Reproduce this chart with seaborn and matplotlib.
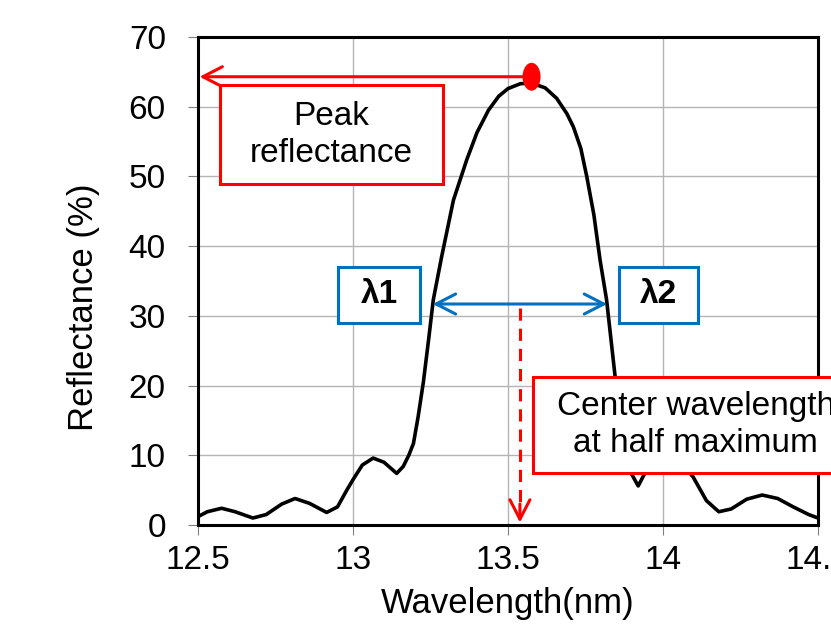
import numpy as np
import matplotlib
matplotlib.use("Agg")
import matplotlib.pyplot as plt
from matplotlib.patches import Rectangle, Ellipse
import seaborn as sns

# ---------------- data ----------------
wavelength = [12.50, 12.53, 12.576, 12.62, 12.677, 12.72, 12.77, 12.813, 12.86, 12.915,
              12.95, 12.98, 13.00, 13.03, 13.065, 13.10, 13.141, 13.162, 13.18, 13.195,
              13.21, 13.227, 13.245, 13.259, 13.286, 13.324, 13.367, 13.40, 13.437, 13.47,
              13.50, 13.54, 13.576, 13.62, 13.657, 13.69, 13.711, 13.735, 13.754, 13.777,
              13.797, 13.818, 13.845, 13.87, 13.89, 13.92, 13.947, 13.98, 14.02, 14.06,
              14.097, 14.14, 14.18, 14.22, 14.27, 14.32, 14.37, 14.42, 14.47, 14.50]
reflectance = [1.2, 1.9, 2.4, 1.9, 1.0, 1.5, 3.0, 3.8, 3.1, 1.8,
               2.6, 5.0, 6.5, 8.6, 9.6, 9.0, 7.4, 8.4, 10.0, 11.7,
               15.5, 20.5, 27.0, 32.3, 38.5, 46.6, 52.4, 56.3, 59.5, 61.5,
               62.6, 63.3, 63.4, 62.7, 61.2, 59.0, 57.1, 54.0, 50.0, 44.5,
               38.0, 32.3, 21.5, 13.0, 8.0, 5.6, 7.9, 9.5, 9.8, 8.8,
               6.9, 3.5, 1.9, 2.3, 3.7, 4.3, 3.8, 2.6, 1.5, 1.0]
x_ticks = [12.5, 13.0, 13.5, 14.0, 14.5]
x_tick_labels = ["12.5", "13", "13.5", "14", "14.5"]
y_ticks = [0, 10, 20, 30, 40, 50, 60, 70]
y_tick_labels = ["0", "10", "20", "30", "40", "50", "60", "70"]

# ---------------- style ----------------
sns.set_style("whitegrid")
plt.rcParams['font.family'] = ['Liberation Sans', 'DejaVu Sans']
plt.rcParams['text.color'] = 'black'
plt.rcParams['axes.labelcolor'] = 'black'

RED = "#FF0000"
BLUE = "#0070C0"
LW = 2.2
FS = 24

fig = plt.figure(figsize=(8.31, 6.32), dpi=100)
ax = fig.add_axes([198 / 831, 107 / 632, 620 / 831, 488 / 632])

sns.lineplot(x=wavelength, y=reflectance, ax=ax, color="black", linewidth=2.6, zorder=3)

ax.set_xlim(12.5, 14.5)
ax.set_ylim(0, 70)
ax.set_xticks(x_ticks)
ax.set_xticklabels(x_tick_labels)
ax.set_yticks(y_ticks)
ax.set_yticklabels(y_tick_labels)
ax.grid(True, color="#b4b4b4", linewidth=1.0)
ax.set_axisbelow(True)
for s in ax.spines.values():
    s.set_visible(True)
    s.set_color("black")
    s.set_linewidth(LW)
ax.tick_params(axis="both", direction="out", length=7.2, width=0.8, color="#808080",
               labelsize=FS, labelcolor="black")
ax.tick_params(axis="x", pad=7, bottom=True)
ax.tick_params(axis="y", pad=16, left=True)

ax.set_xlabel("Wavelength(nm)", fontsize=25, color="black")
ax.set_ylabel("Reflectance (%)", fontsize=25, color="black")
ax.xaxis.set_label_coords(0.5, -0.128)
ax.yaxis.set_label_coords(-0.158, 0.447)

# ---------------- derived annotation values ----------------
w = np.array(wavelength)
r = np.array(reflectance)
ipk = int(r.argmax())
peak_w, peak_r = w[ipk], r[ipk]
half = peak_r / 2.0


def crossing(i0, step):
    i = i0
    while r[i + step] >= half:
        i += step
    j = i + step
    return w[j] + (half - r[j]) * (w[i] - w[j]) / (r[i] - r[j])


lam1 = crossing(ipk, -1)
lam2 = crossing(ipk, 1)
center = (lam1 + lam2) / 2.0

HEAD = ",head_length=0.7,head_width=0.36"

# peak marker and arrow
dot_y = peak_r + 0.9
ax.annotate("", xy=(12.505, dot_y), xytext=(peak_w, dot_y),
            arrowprops=dict(arrowstyle="->" + HEAD, color=RED, lw=LW, shrinkA=0, shrinkB=0,
                            mutation_scale=20), zorder=4)
ax.add_patch(Ellipse((peak_w, dot_y), 0.058, 4.0, facecolor=RED, edgecolor="none", zorder=7))

# peak box
ax.add_patch(Rectangle((12.571, 48.9), 0.719, 14.2, facecolor="white", edgecolor=RED,
                       lw=LW, zorder=5))
ax.text(12.9305, 56.0, "Peak\nreflectance", ha="center", va="center", fontsize=FS,
        linespacing=1.25, color="black", zorder=6)

# lambda double arrow
ax.annotate("", xy=(lam2, half), xytext=(lam1, half),
            arrowprops=dict(arrowstyle="<->" + HEAD, color=BLUE, lw=LW, shrinkA=0,
                            shrinkB=0, mutation_scale=20), zorder=4)

# lambda boxes
ax.add_patch(Rectangle((12.953, 29.0), 0.263, 8.0, facecolor="white", edgecolor=BLUE,
                       lw=LW, zorder=5))
ax.text(13.0845, 33.0, "λ1", ha="center", va="center", fontsize=FS, fontweight="bold",
        color="black", zorder=6)
ax.add_patch(Rectangle((13.859, 29.0), 0.253, 8.0, facecolor="white", edgecolor=BLUE,
                       lw=LW, zorder=5))
ax.text(13.9855, 33.0, "λ2", ha="center", va="center", fontsize=FS, fontweight="bold",
        color="black", zorder=6)

# center dashed arrow
ax.plot([center, center], [half - 0.6, 3.0], color=RED, lw=LW,
        linestyle=(0, (4.0, 2.6)), zorder=4)
ax.annotate("", xy=(center, 0.35), xytext=(center, 3.0),
            arrowprops=dict(arrowstyle="->" + HEAD, color=RED, lw=LW, shrinkA=0, shrinkB=0,
                            mutation_scale=20), zorder=4)

# center box
ax.add_patch(Rectangle((13.58, 7.4), 1.06, 13.9, facecolor="white", edgecolor=RED,
                       lw=LW, zorder=5, clip_on=False))
ax.text(14.106, 14.35, "Center wavelength\nat half maximum", ha="center", va="center",
        fontsize=FS, linespacing=1.25, color="black", zorder=6, clip_on=False)

fig.savefig("out.png", dpi=100)
